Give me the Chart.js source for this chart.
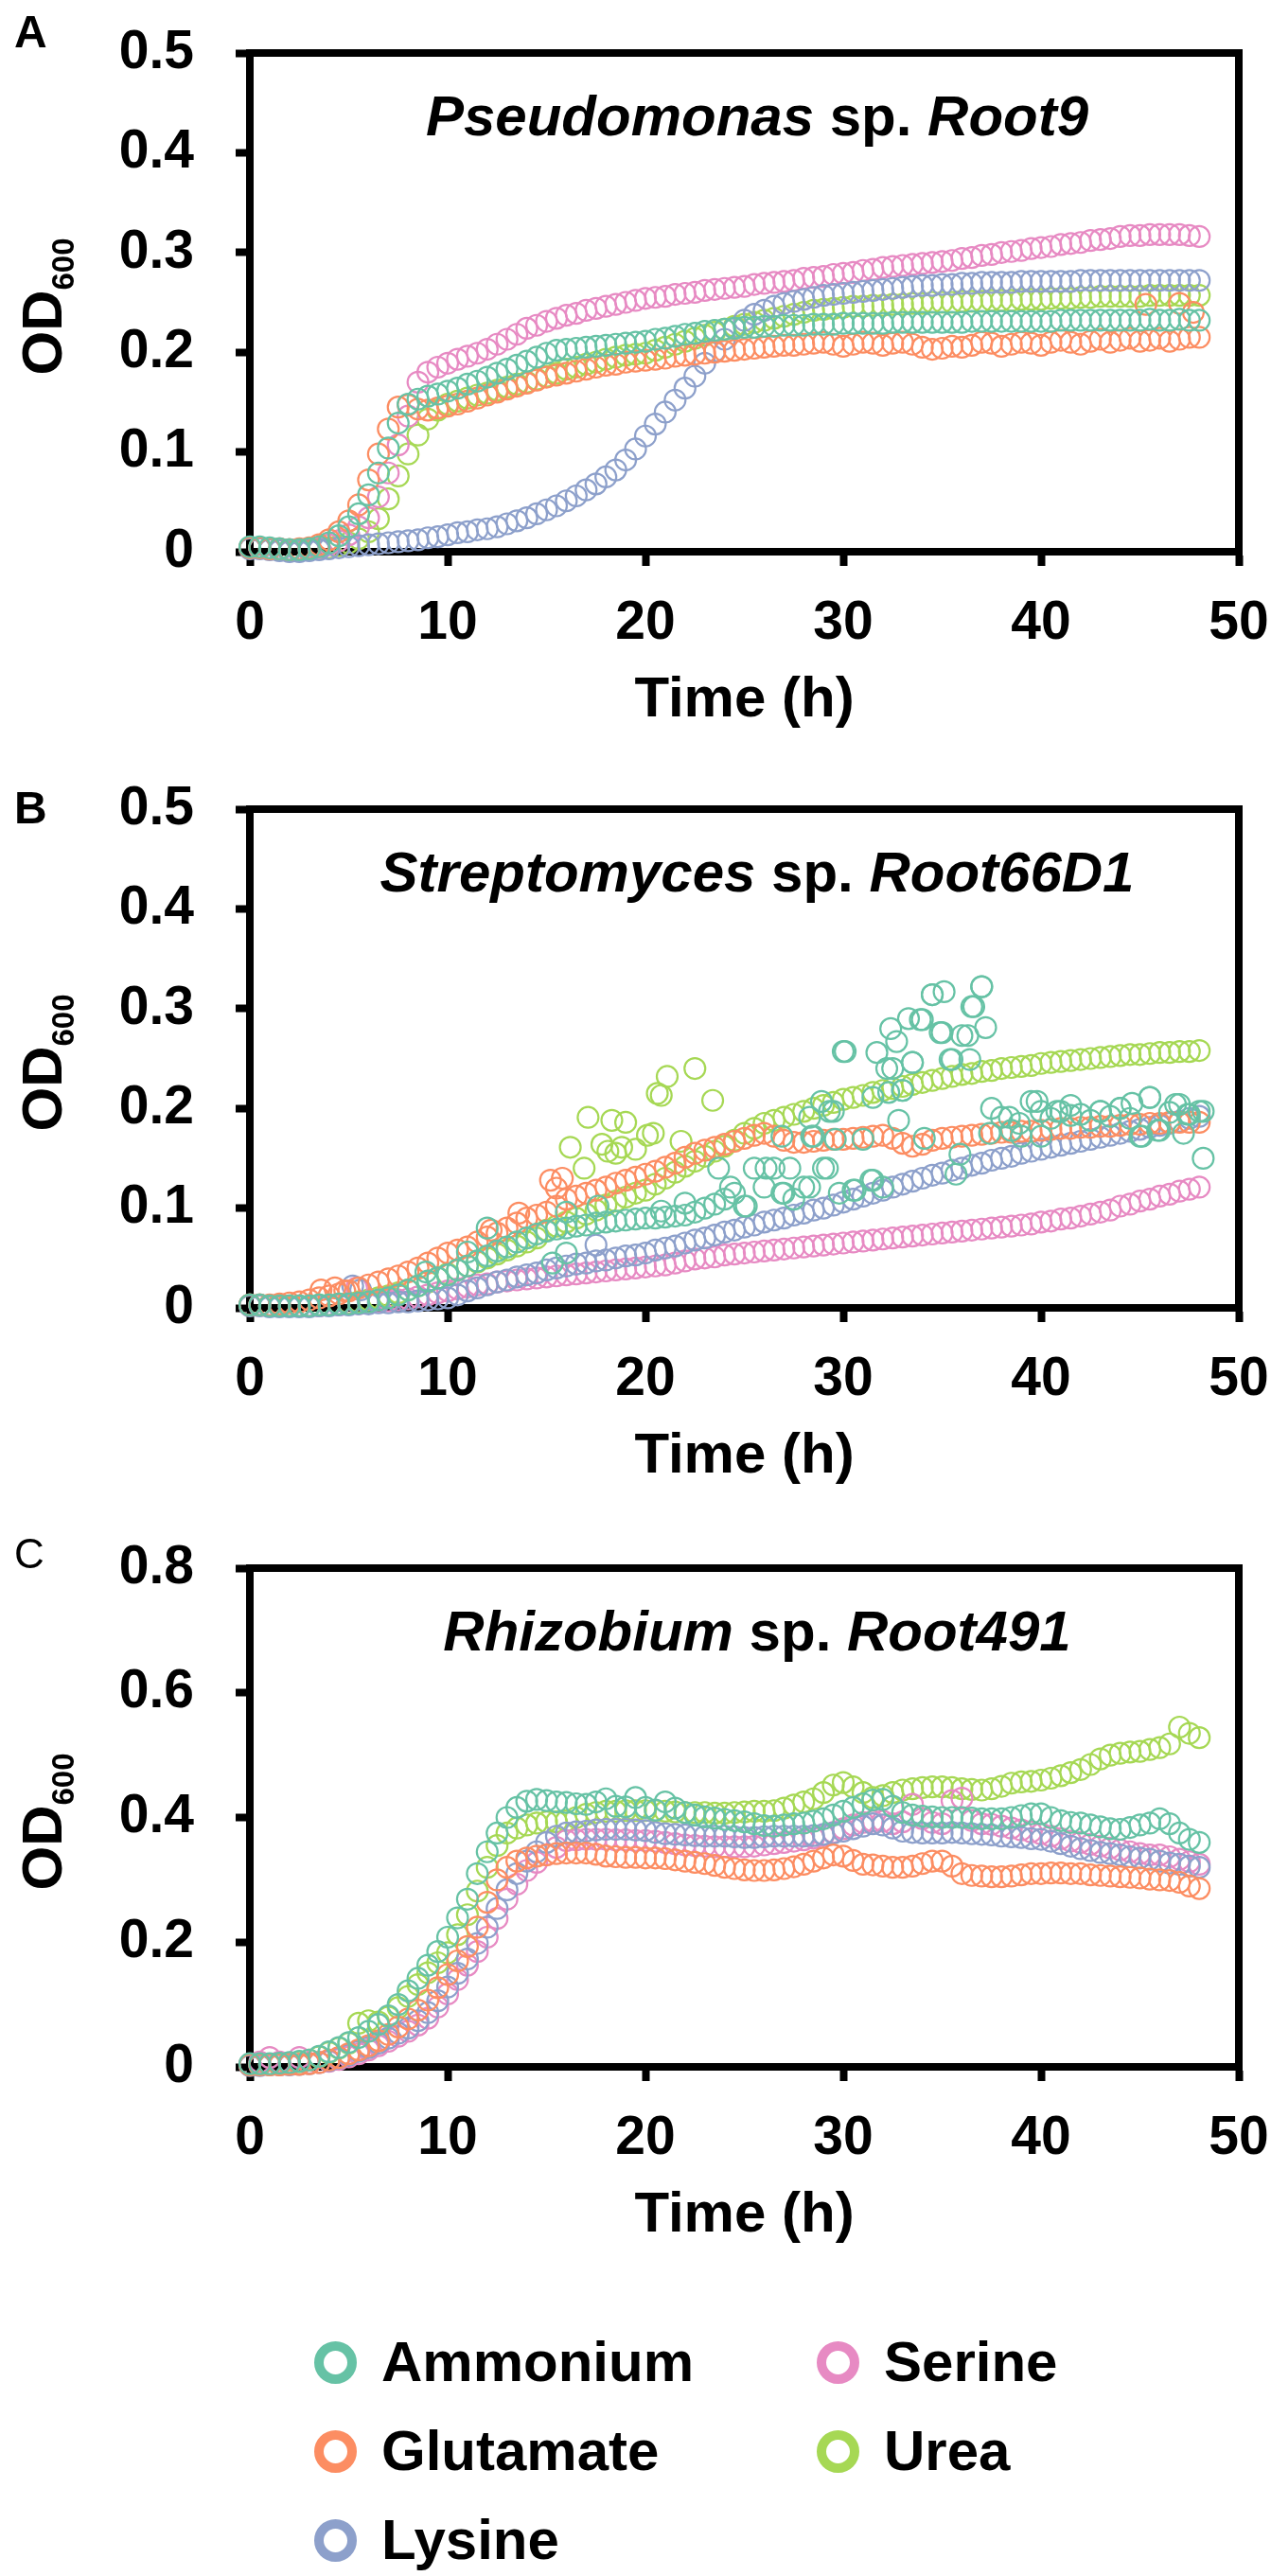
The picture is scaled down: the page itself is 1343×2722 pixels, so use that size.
<!DOCTYPE html>
<html>
<head>
<meta charset="utf-8">
<script src="https://cdn.jsdelivr.net/npm/chart.js@4.4.1/dist/chart.umd.min.js"></script>
<style>
  html, body { margin: 0; padding: 0; background: #ffffff; }
  body { width: 1343px; height: 2722px; position: relative; overflow: hidden; }
  canvas { position: absolute; left: 0; }
  .ring { position: absolute; width: 25px; height: 25px; border-style: solid; border-width: 10px; border-radius: 50%; }
  .ltext { position: absolute; font-family: 'Liberation Sans', Arial, Helvetica, sans-serif; font-weight: bold; font-size: 60px; line-height: 60px; color: #000; white-space: nowrap; }
</style>
</head>
<body>
<canvas id="panelA" width="1343" height="800" style="top:0px"></canvas>
<canvas id="panelB" width="1343" height="800" style="top:799px"></canvas>
<canvas id="panelC" width="1343" height="800" style="top:1601px"></canvas>
<div id="legend"></div>
<script>
// ---------------- DATA ----------------
const seriesNames = ['Ammonium', 'Glutamate', 'Lysine', 'Serine', 'Urea'];
const seriesColors = ['#66c2a5', '#fc8d62', '#8da0cb', '#e78ac3', '#a6d854'];

const xTickLabels = ['0', '10', '20', '30', '40', '50'];
const yTickLabelsAB = ['0', '0.1', '0.2', '0.3', '0.4', '0.5'];
const yTickLabelsC = ['0', '0.2', '0.4', '0.6', '0.8'];

const hours = [
  0,0.5,1,1.5,2,2.5,3,3.5,4,4.5,
  5,5.5,6,6.5,7,7.5,8,8.5,9,9.5,
  10,10.5,11,11.5,12,12.5,13,13.5,14,14.5,
  15,15.5,16,16.5,17,17.5,18,18.5,19,19.5,
  20,20.5,21,21.5,22,22.5,23,23.5,24,24.5,
  25,25.5,26,26.5,27,27.5,28,28.5,29,29.5,
  30,30.5,31,31.5,32,32.5,33,33.5,34,34.5,
  35,35.5,36,36.5,37,37.5,38,38.5,39,39.5,
  40,40.5,41,41.5,42,42.5,43,43.5,44,44.5,
  45,45.5,46,46.5,47,47.5,48
];

// Panel A: Pseudomonas sp. Root9
const pseudoAmmonium = [
  .005,.005,.004,.003,.002,.002,.003,.005,.009,.016,
  .025,.038,.057,.079,.104,.129,.148,.153,.156,.158,
  .161,.164,.168,.171,.175,.179,.183,.187,.191,.195,
  .199,.202,.203,.204,.205,.206,.207,.208,.209,.210,
  .211,.213,.214,.216,.218,.219,.221,.222,.223,.224,
  .225,.225,.226,.226,.227,.227,.227,.228,.228,.228,
  .229,.229,.229,.229,.229,.230,.230,.230,.230,.230,
  .230,.230,.230,.231,.231,.231,.231,.231,.231,.231,
  .231,.231,.232,.232,.232,.232,.232,.232,.232,.232,
  .232,.233,.232,.232,.233,.232,.232
];
const pseudoGlutamate = [
  .004,.004,.003,.003,.002,.003,.004,.007,.012,.020,
  .031,.047,.072,.098,.123,.145,.147,.143,.142,.144,
  .146,.148,.151,.154,.157,.160,.163,.166,.169,.172,
  .175,.177,.179,.181,.183,.185,.187,.188,.190,.191,
  .192,.193,.194,.196,.197,.198,.199,.200,.201,.202,
  .203,.204,.205,.206,.207,.207,.208,.209,.210,.208,
  .206,.208,.210,.209,.207,.209,.210,.208,.205,.203,
  .204,.206,.205,.207,.210,.209,.206,.208,.210,.209,
  .207,.210,.212,.210,.208,.211,.213,.210,.212,.214,
  .211,.212,.214,.211,.213,.215,.215
];
const pseudoGlutamateExtra = [[45.3,.248],[47.0,.249],[47.7,.240]];
const pseudoLysine = [
  .003,.003,.002,.001,.000,.000,.001,.002,.003,.004,
  .005,.006,.007,.008,.009,.010,.011,.012,.014,.015,
  .017,.019,.020,.022,.023,.025,.028,.031,.034,.038,
  .042,.046,.051,.056,.062,.068,.075,.082,.092,.103,
  .116,.128,.140,.152,.164,.176,.189,.201,.213,.224,
  .232,.238,.242,.246,.249,.251,.253,.255,.257,.258,
  .259,.260,.261,.262,.263,.264,.265,.266,.267,.267,
  .268,.268,.269,.269,.270,.270,.270,.270,.271,.271,
  .271,.271,.271,.271,.272,.272,.272,.272,.272,.272,
  .272,.272,.272,.272,.272,.272,.272
];
const pseudoSerine = [
  .004,.004,.003,.003,.002,.002,.003,.004,.007,.011,
  .017,.025,.034,.055,.079,.107,.136,.170,.180,.185,
  .189,.193,.196,.199,.203,.208,.213,.218,.224,.227,
  .231,.234,.237,.239,.242,.244,.246,.248,.250,.252,
  .254,.255,.256,.258,.259,.260,.262,.263,.264,.265,
  .266,.268,.269,.270,.271,.272,.274,.275,.276,.278,
  .279,.280,.282,.283,.285,.286,.287,.288,.289,.290,
  .291,.292,.294,.295,.297,.298,.300,.301,.302,.304,
  .305,.306,.308,.309,.310,.312,.313,.314,.316,.317,
  .317,.318,.318,.318,.318,.317,.316
];
const pseudoUrea = [
  .004,.004,.003,.002,.002,.002,.002,.003,.004,.006,
  .009,.013,.020,.033,.053,.076,.098,.117,.133,.142,
  .148,.151,.154,.157,.159,.162,.165,.168,.170,.173,
  .176,.179,.183,.185,.188,.190,.193,.195,.197,.198,
  .199,.202,.205,.208,.211,.214,.217,.220,.223,.226,
  .228,.230,.232,.234,.236,.238,.240,.242,.243,.244,
  .245,.246,.246,.247,.247,.248,.248,.249,.249,.250,
  .250,.250,.251,.251,.251,.252,.252,.252,.253,.253,
  .253,.254,.254,.254,.255,.255,.256,.256,.256,.256,
  .256,.257,.257,.257,.257,.257,.257
];

// Panel B: Streptomyces sp. Root66D1
const streptoAmmonium = [
  .003,.003,.002,.002,.002,.002,.002,.003,.003,.004,
  .004,.005,.006,.008,.010,.013,.018,.022,.027,.030,
  .033,.038,.042,.047,.052,.057,.061,.066,.070,.074,
  .077,.079,.080,.082,.083,.085,.086,.087,.088,.089,
  .090,.090,.091,.092,.093,.096,.100,.104,.109,.115,
  .102,.140,.121,.140,.115,.109,.121,.172,.140,.197,
  .257,.118,.169,.128,.121,.240,.218,.246,.289,.314,
  .276,.249,.273,.302,.322,.200,.191,.178,.172,.207,
  .197,.190,.197,.193,.194,.188,.197,.192,.200,.190,
  .172,.211,.178,.196,.204,.194,.197
];
const streptoAmmoniumExtra = [
  [8.9,.036],[11.0,.056],[12.0,.080],[15.3,.045],[16.0,.096],[16.0,.055],[17.6,.102],[20.8,.097],
  [22.0,.105],[23.7,.140],[24.3,.121],[25.1,.102],[26.1,.140],[26.9,.172],[26.9,.115],[27.3,.140],
  [28.3,.191],[28.4,.172],[28.3,.121],[28.9,.207],[29.2,.140],[29.3,.197],[29.6,.169],[29.8,.115],
  [30.1,.257],[30.6,.118],[31.4,.128],[31.5,.211],[31.7,.256],[32.2,.240],[32.3,.216],[32.4,.280],
  [32.7,.267],[32.8,.188],[33.0,.218],[33.3,.290],[33.5,.246],[33.9,.289],[34.1,.170],[34.5,.314],
  [34.9,.276],[35.1,.317],[35.4,.249],[35.7,.134],[35.9,.154],[36.3,.273],[36.4,.249],[36.6,.302],
  [37.0,.322],[37.2,.281],[37.4,.175],[38.4,.191],[38.9,.185],[39.8,.207],[40.0,.172],[40.8,.197],
  [41.5,.203],[42.0,.194],[43.0,.197],[44.0,.200],[44.6,.205],[45.1,.172],[45.5,.211],[45.9,.178],
  [46.8,.204],[47.2,.175],[47.4,.194],[48.2,.150],[48.2,.197]
];
const streptoGlutamate = [
  .003,.003,.003,.004,.005,.006,.008,.010,.012,.014,
  .017,.020,.023,.026,.029,.032,.036,.040,.045,.050,
  .055,.058,.061,.066,.071,.075,.080,.085,.090,.093,
  .096,.102,.109,.112,.115,.118,.121,.125,.128,.131,
  .134,.137,.141,.145,.151,.155,.158,.161,.164,.167,
  .170,.173,.175,.172,.168,.166,.166,.167,.168,.169,
  .169,.170,.171,.172,.173,.170,.165,.162,.164,.168,
  .170,.171,.172,.173,.174,.175,.176,.176,.177,.177,
  .178,.179,.180,.180,.181,.181,.182,.182,.183,.184,
  .184,.185,.185,.186,.186,.186,.186
];
const streptoGlutamateExtra = [[3.6,.018],[4.3,.020],[4.8,.017],[12.2,.078],[13.6,.095],[15.2,.128],[15.5,.120],[15.8,.130]];
const streptoLysine = [
  .002,.002,.001,.001,.001,.001,.001,.002,.002,.003,
  .003,.004,.004,.005,.005,.006,.006,.007,.008,.009,
  .010,.013,.017,.020,.023,.026,.028,.031,.033,.035,
  .038,.040,.042,.044,.045,.047,.048,.050,.052,.053,
  .055,.058,.060,.062,.065,.068,.070,.073,.076,.078,
  .081,.083,.086,.088,.090,.093,.095,.098,.100,.103,
  .106,.109,.112,.115,.118,.121,.124,.127,.130,.133,
  .135,.138,.140,.143,.145,.148,.150,.152,.155,.157,
  .159,.161,.163,.165,.167,.169,.171,.173,.175,.177,
  .179,.181,.183,.185,.187,.190,.192
];
const streptoLysineExtra = [[5.2,.022],[5.6,.018],[17.5,.063]];
const streptoSerine = [
  .003,.003,.002,.002,.002,.002,.002,.002,.003,.003,
  .004,.004,.005,.006,.007,.008,.009,.011,.013,.015,
  .017,.019,.021,.023,.024,.026,.027,.028,.029,.030,
  .031,.032,.033,.034,.035,.036,.037,.038,.039,.040,
  .041,.042,.043,.045,.047,.049,.050,.051,.053,.054,
  .055,.056,.057,.058,.059,.060,.061,.062,.063,.064,
  .065,.066,.067,.068,.069,.070,.071,.072,.073,.074,
  .075,.076,.077,.078,.079,.080,.081,.082,.083,.084,
  .086,.087,.089,.090,.092,.094,.096,.098,.102,.104,
  .107,.109,.112,.114,.117,.119,.121
];
const streptoSerineExtra = [[5.4,.020]];
const streptoUrea = [
  .003,.003,.002,.002,.002,.002,.002,.003,.003,.004,
  .005,.006,.008,.010,.012,.015,.018,.022,.026,.030,
  .034,.038,.042,.046,.050,.054,.058,.062,.066,.070,
  .078,.082,.086,.090,.094,.098,.103,.107,.111,.115,
  .118,.124,.130,.136,.142,.147,.152,.157,.162,.168,
  .175,.180,.185,.188,.191,.194,.197,.200,.203,.206,
  .209,.211,.213,.216,.218,.220,.222,.224,.226,.228,
  .230,.232,.234,.235,.237,.238,.240,.241,.242,.243,
  .245,.246,.247,.248,.249,.250,.251,.252,.253,.254,
  .254,.255,.256,.256,.257,.257,.258
];
const streptoUreaExtra = [
  [16.2,.161],[16.9,.140],[17.1,.191],[17.8,.164],[18.1,.157],[18.3,.188],[18.5,.155],[18.8,.161],
  [19.0,.186],[19.5,.159],[20.1,.173],[20.4,.175],[20.6,.215],[20.8,.213],[21.1,.232],[21.8,.167],
  [22.5,.240],[23.4,.208]
];

// Panel C: Rhizobium sp. Root491
const rhizoAmmonium = [
  .005,.005,.005,.006,.007,.009,.011,.017,.024,.031,
  .039,.047,.057,.068,.082,.100,.122,.142,.163,.185,
  .208,.239,.269,.310,.345,.375,.400,.416,.426,.429,
  .427,.425,.424,.422,.421,.425,.430,.418,.417,.432,
  .416,.412,.425,.415,.408,.404,.401,.399,.397,.395,
  .393,.390,.387,.386,.388,.390,.391,.394,.398,.404,
  .410,.416,.422,.428,.429,.418,.408,.404,.402,.401,
  .400,.400,.400,.399,.398,.398,.398,.400,.403,.406,
  .406,.400,.395,.392,.391,.388,.385,.382,.381,.384,
  .388,.391,.398,.390,.375,.365,.360
];
const rhizoGlutamate = [
  .003,.003,.003,.003,.004,.004,.005,.007,.011,.015,
  .021,.027,.034,.042,.052,.064,.077,.091,.107,.127,
  .148,.170,.193,.224,.264,.300,.320,.330,.335,.338,
  .340,.342,.343,.343,.343,.341,.338,.337,.336,.336,
  .335,.335,.334,.332,.330,.328,.326,.323,.320,.318,
  .316,.315,.315,.316,.318,.321,.325,.330,.335,.340,
  .338,.331,.325,.324,.322,.320,.320,.322,.326,.330,
  .330,.322,.310,.307,.306,.305,.305,.306,.308,.310,
  .310,.311,.311,.310,.310,.308,.307,.306,.305,.304,
  .303,.301,.300,.299,.296,.290,.286
];
const rhizoLysine = [
  .002,.002,.003,.003,.003,.004,.005,.007,.010,.014,
  .019,.025,.031,.038,.046,.054,.062,.074,.087,.106,
  .128,.150,.173,.198,.224,.254,.284,.310,.330,.345,
  .360,.370,.375,.377,.378,.380,.381,.381,.381,.380,
  .379,.376,.374,.373,.372,.371,.370,.370,.370,.369,
  .368,.368,.369,.370,.370,.370,.370,.371,.373,.375,
  .378,.382,.386,.390,.388,.383,.378,.376,.375,.375,
  .375,.376,.375,.374,.373,.372,.370,.369,.368,.366,
  .365,.362,.358,.354,.350,.347,.344,.342,.340,.337,
  .335,.333,.330,.327,.325,.322,.320
];
const rhizoSerine = [
  .004,.008,.015,.008,.006,.015,.006,.007,.009,.012,
  .016,.021,.027,.034,.041,.049,.057,.067,.078,.096,
  .117,.140,.163,.185,.208,.238,.269,.293,.315,.328,
  .340,.352,.363,.364,.365,.365,.365,.364,.364,.363,
  .363,.362,.360,.358,.356,.355,.354,.353,.353,.353,
  .353,.354,.356,.358,.360,.362,.364,.367,.371,.376,
  .382,.388,.392,.394,.394,.390,.393,.421,.398,.392,
  .390,.427,.431,.395,.390,.389,.386,.383,.380,.377,
  .374,.370,.366,.362,.360,.357,.354,.351,.348,.345,
  .342,.340,.340,.337,.333,.329,.325
];
const rhizoUrea = [
  .004,.004,.004,.005,.006,.008,.011,.016,.023,.030,
  .038,.070,.074,.072,.080,.095,.113,.132,.151,.167,
  .183,.212,.244,.282,.320,.355,.375,.383,.388,.391,
  .393,.393,.395,.400,.405,.408,.410,.410,.411,.411,
  .411,.411,.410,.409,.408,.408,.408,.407,.407,.408,
  .409,.410,.410,.411,.415,.420,.425,.430,.440,.452,
  .456,.449,.440,.432,.435,.440,.444,.446,.448,.449,
  .449,.448,.446,.445,.444,.446,.450,.455,.457,.458,
  .460,.463,.467,.472,.477,.485,.494,.500,.503,.505,
  .506,.509,.512,.518,.545,.535,.528
];

// ---------------- RENDERING ----------------
const FONT = "'Liberation Sans', Arial, Helvetica, sans-serif";

function toPoints(values, extra) {
  const pts = hours.map((h, i) => ({ x: h, y: values[i] }));
  (extra || []).forEach(p => pts.push({ x: p[0], y: p[1] }));
  return pts;
}

const panelTextPlugin = {
  id: 'panelText',
  beforeDatasetsDraw(chart) {
    const { ctx, chartArea: a } = chart;
    ctx.save();
    ctx.lineWidth = 8;
    ctx.strokeStyle = '#000';
    ctx.lineJoin = 'miter';
    ctx.strokeRect(a.left, a.top, a.right - a.left, a.bottom - a.top);
    ctx.restore();
  },
  afterDraw(chart, args, opts) {
    const { ctx, chartArea: a } = chart;
    ctx.save();
    ctx.fillStyle = '#000';
    ctx.textBaseline = 'alphabetic';
    ctx.textAlign = 'left';
    const parts = [
      { t: opts.genus, f: 'italic bold 60px ' + FONT },
      { t: ' sp. ', f: 'bold 60px ' + FONT },
      { t: opts.strain, f: 'italic bold 60px ' + FONT }
    ];
    let total = 0;
    parts.forEach(p => { ctx.font = p.f; p.w = ctx.measureText(p.t).width; total += p.w; });
    let x = opts.titleCenter - total / 2;
    const ty = a.top + 87;
    parts.forEach(p => { ctx.font = p.f; ctx.fillText(p.t, x, ty); x += p.w; });
    ctx.font = opts.letterFont;
    ctx.fillText(opts.letter, 15, opts.letterY);
    ctx.translate(65, a.top + 268);
    ctx.rotate(-Math.PI / 2);
    ctx.font = 'bold 60px ' + FONT;
    const wOD = ctx.measureText('OD').width;
    ctx.font = 'bold 33px ' + FONT;
    const wSub = ctx.measureText('600').width;
    const start = -(wOD + wSub) / 2;
    ctx.font = 'bold 60px ' + FONT;
    ctx.fillText('OD', start, 0);
    ctx.font = 'bold 33px ' + FONT;
    ctx.fillText('600', start + wOD, 13);
    ctx.restore();
  }
};

function axisCommon() {
  return {
    grid: { display: true, drawOnChartArea: false, drawTicks: true, tickLength: 15, tickWidth: 8, tickColor: '#000' },
    border: { display: true, width: 8, color: '#000' }
  };
}

function makeChart(canvasId, valueSets, extraSets, yMax, yStep, yLabels, meta) {
  const datasets = seriesNames.map((name, i) => ({
    label: name,
    data: toPoints(valueSets[i], extraSets[i]),
    borderColor: seriesColors[i],
    backgroundColor: 'rgba(0,0,0,0)',
    pointBorderColor: seriesColors[i],
    pointBackgroundColor: 'rgba(0,0,0,0)',
    pointRadius: 11,
    pointHoverRadius: 11,
    pointBorderWidth: 2.2,
    showLine: false,
    clip: false
  }));
  return new Chart(document.getElementById(canvasId), {
    type: 'scatter',
    data: { datasets },
    plugins: [panelTextPlugin],
    options: {
      responsive: false,
      animation: false,
      devicePixelRatio: 1,
      events: [],
      layout: { padding: { top: 56, left: 0, right: 34, bottom: 0 } },
      plugins: {
        legend: { display: false },
        tooltip: { enabled: false },
        panelText: meta
      },
      scales: {
        x: Object.assign(axisCommon(), {
          type: 'linear', min: 0, max: 50,
          afterFit(s) { s.height = 217; s.paddingLeft = 0; s.paddingRight = 0; },
          ticks: {
            stepSize: 10, padding: 27, maxRotation: 0, autoSkip: false, color: '#000',
            font: { family: FONT, size: 57, weight: 'bold' },
            callback: (v, i) => xTickLabels[i]
          },
          title: {
            display: true, text: 'Time (h)', color: '#000',
            font: { family: FONT, size: 60, weight: 'bold' },
            padding: { top: 0, bottom: 24 }
          }
        }),
        y: Object.assign(axisCommon(), {
          type: 'linear', min: 0, max: yMax,
          afterFit(s) { s.width = 264; s.paddingTop = 0; s.paddingBottom = 0; },
          ticks: {
            stepSize: yStep, padding: 44, color: '#000',
            font: { family: FONT, size: 57, weight: 'bold' },
            callback: (v, i) => yLabels[i]
          }
        })
      }
    }
  });
}

makeChart('panelA',
  [pseudoAmmonium, pseudoGlutamate, pseudoLysine, pseudoSerine, pseudoUrea],
  [null, pseudoGlutamateExtra, null, null, null],
  0.5, 0.1, yTickLabelsAB,
  { genus: 'Pseudomonas', strain: 'Root9', titleCenter: 800, letter: 'A', letterFont: 'bold 48px ' + FONT, letterY: 50 });

makeChart('panelB',
  [streptoAmmonium, streptoGlutamate, streptoLysine, streptoSerine, streptoUrea],
  [streptoAmmoniumExtra, streptoGlutamateExtra, streptoLysineExtra, streptoSerineExtra, streptoUreaExtra],
  0.5, 0.1, yTickLabelsAB,
  { genus: 'Streptomyces', strain: 'Root66D1', titleCenter: 800, letter: 'B', letterFont: 'bold 48px ' + FONT, letterY: 71 });

makeChart('panelC',
  [rhizoAmmonium, rhizoGlutamate, rhizoLysine, rhizoSerine, rhizoUrea],
  [null, null, null, null, null],
  0.8, 0.2, yTickLabelsC,
  { genus: 'Rhizobium', strain: 'Root491', titleCenter: 800, letter: 'C', letterFont: '44px ' + FONT, letterY: 56 });

// Legend (two columns: Ammonium/Glutamate/Lysine, Serine/Urea)
const legendColumnX = [354, 885];
const legendRowY = [2496, 2590, 2684];
const legendSlots = [[0,0],[0,1],[0,2],[1,0],[1,1]];
const legend = document.getElementById('legend');
seriesNames.forEach((name, i) => {
  const [c, r] = legendSlots[i];
  const cx = legendColumnX[c], cy = legendRowY[r];
  const ring = document.createElement('div');
  ring.className = 'ring';
  ring.style.borderColor = seriesColors[i];
  ring.style.left = (cx - 22.5) + 'px';
  ring.style.top = (cy - 22.5) + 'px';
  legend.appendChild(ring);
  const txt = document.createElement('div');
  txt.className = 'ltext';
  txt.textContent = name;
  txt.style.left = (cx + 49) + 'px';
  txt.style.top = (cy + 21 - 51) + 'px';
  legend.appendChild(txt);
});
</script>
</body>
</html>
